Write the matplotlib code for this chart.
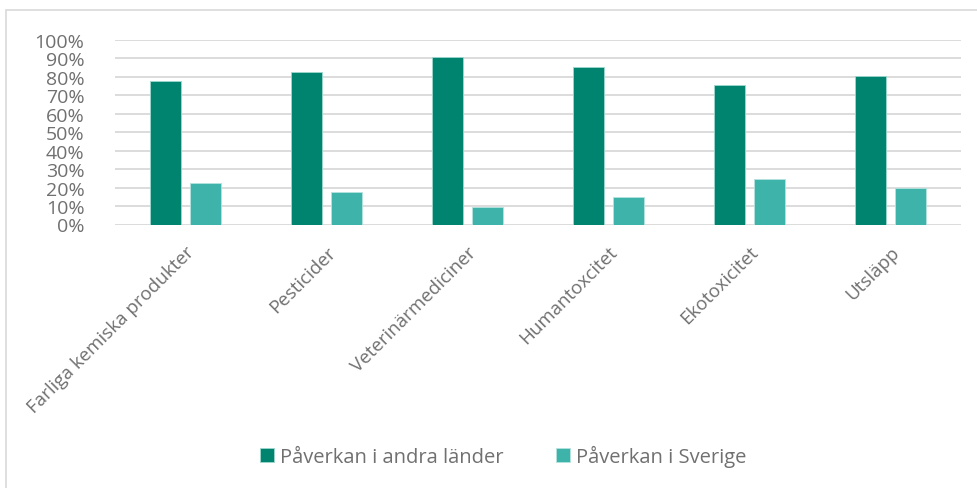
import matplotlib
matplotlib.use("Agg")
import matplotlib.pyplot as plt
import numpy as np
from matplotlib.patches import Rectangle
from matplotlib.ticker import PercentFormatter

categories = ["Farliga kemiska produkter", "Pesticider", "Veterinärmediciner",
              "Humantoxcitet", "Ekotoxicitet", "Utsläpp"]
andra_lander = [0.775, 0.825, 0.905, 0.85, 0.755, 0.805]
sverige = [0.225, 0.175, 0.095, 0.15, 0.245, 0.195]
series_names = ["Påverkan i andra länder", "Påverkan i Sverige"]
yticks = np.arange(0, 1.01, 0.1)

plt.rcParams['font.family'] = ['Open Sans', 'DejaVu Sans']
W, H = 977, 489
fig = plt.figure(figsize=(W/100, H/100), dpi=100)
ax = fig.add_axes([115/W, 1-225.5/H, (961-115)/W, (225.5-40.7)/H])

c1 = "#00836F"
c2 = "#3EB3A9"
txtc = "#707070"
x = np.arange(len(categories))
w = 0.22
off = 0.142
b1 = ax.bar(x - off, andra_lander, w, color=c1, edgecolor="#9fd8cf", linewidth=0.6,
            label=series_names[0], zorder=3)
b2 = ax.bar(x + off, sverige, w, color=c2, edgecolor="#b5e3de", linewidth=0.6,
            label=series_names[1], zorder=3)

ax.set_xlim(-0.5, len(categories) - 0.5)
ax.set_ylim(0, 1.0)
ax.set_yticks(yticks)
ax.yaxis.set_major_formatter(PercentFormatter(1.0, decimals=0))
ax.grid(axis="y", color="#d9d9d9", linewidth=1.3, zorder=0)
ax.set_axisbelow(True)
for s in ax.spines.values():
    s.set_visible(False)
ax.tick_params(axis="both", length=0, colors=txtc)
ax.tick_params(axis="y", labelsize=14, pad=22)
ax.set_xticks(x)
ax.set_xticklabels(categories, rotation=45, ha="right", rotation_mode="anchor",
                   fontsize=13.5, color=txtc)
ax.tick_params(axis="x", pad=13)
for lbl in ax.get_yticklabels():
    lbl.set_color(txtc)

leg = fig.legend(handles=[b1, b2], labels=series_names, loc="center",
                 bbox_to_anchor=(503/W, 1-457/H), ncol=2, frameon=False,
                 fontsize=14.5, handlelength=0.7, handleheight=0.7,
                 handletextpad=0.3, columnspacing=2.6, labelcolor=txtc)

fig.patches.append(Rectangle((6/W, -0.01), 1.0, 1-11/H + 0.01, transform=fig.transFigure,
                             fill=False, edgecolor="#d9d9d9", linewidth=1.2))

fig.savefig("out.png", dpi=100)
